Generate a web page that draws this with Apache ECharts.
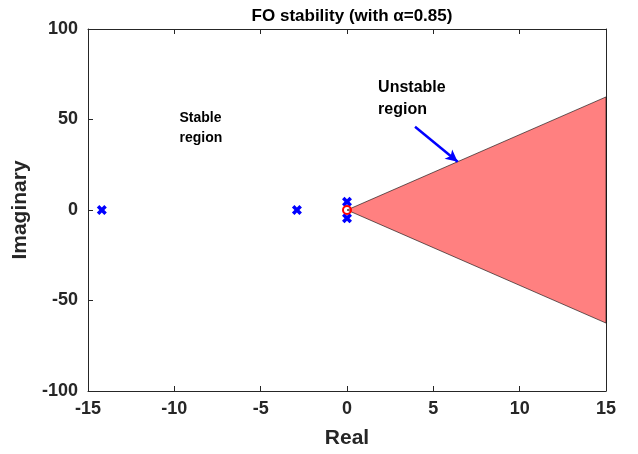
<!DOCTYPE html>
<html><head><meta charset="utf-8">
<script src="https://cdn.jsdelivr.net/npm/echarts@6/dist/echarts.min.js"></script>
<style>html,body{margin:0;padding:0;background:#fff}#c{width:638px;height:454px}</style>
</head><body><div id="c"></div>
<script>
const xTicks = [-15, -10, -5, 0, 5, 10, 15];
const yTicks = [-100, -50, 0, 50, 100];
const poleCross = [[-14.2, 0], [-2.9, 0], [0, 4.6], [0, -4.6]];
const originCircle = [[0, 0]];
const unstableRegion = [[0, 0], [15, 62.47], [15, -62.47]];
const arrowFromTo = [[3.94, 46], [6.41, 26.7]];
const labelsText = [
  { pos: [-9.7, 45.5], text: 'Stable\nregion', size: 14 },
  { pos: [1.8, 61.8], text: 'Unstable\nregion', size: 16 }
];
const FONT = '"Liberation Sans", Arial, sans-serif';
const AX = '#262626';
const xPath = 'path://M0,2.5 L2.5,0 L5,2.5 L7.5,0 L10,2.5 L7.5,5 L10,7.5 L7.5,10 L5,7.5 L2.5,10 L0,7.5 L2.5,5 Z';

const chart = echarts.init(document.getElementById('c'), null, { renderer: 'canvas' });
const axisCommon = {
  axisLine: { show: true, onZero: false, lineStyle: { color: AX, width: 1 } },
  axisTick: { show: true, inside: true, length: 5, lineStyle: { color: AX } },
  splitLine: { show: false }
};
chart.setOption({
  animation: false,
  title: {
    text: 'FO stability (with α=0.85)', left: 347, top: 3, textAlign: 'center',
    textStyle: { fontFamily: FONT, fontSize: 17, fontWeight: 'bold', color: '#000' }
  },
  grid: { left: 88, right: 32, top: 29, bottom: 63 },
  xAxis: [
    Object.assign({
      type: 'value', min: xTicks[0], max: xTicks[xTicks.length - 1], interval: 5, position: 'bottom',
      name: 'Real', nameLocation: 'middle', nameGap: 37,
      nameTextStyle: { fontFamily: FONT, fontSize: 21, fontWeight: 'bold', color: AX },
      axisLabel: { fontFamily: FONT, fontSize: 18, fontWeight: 'bold', color: AX, margin: 9 }
    }, axisCommon),
    Object.assign({
      type: 'value', min: xTicks[0], max: xTicks[xTicks.length - 1], interval: 5, position: 'top',
      axisLabel: { show: false }
    }, axisCommon)
  ],
  yAxis: [
    Object.assign({
      type: 'value', min: yTicks[0], max: yTicks[yTicks.length - 1], interval: 50, position: 'left',
      name: 'Imaginary', nameLocation: 'middle', nameGap: 56,
      nameTextStyle: { fontFamily: FONT, fontSize: 21, fontWeight: 'bold', color: AX },
      axisLabel: { fontFamily: FONT, fontSize: 18, fontWeight: 'bold', color: AX, margin: 10 }
    }, axisCommon),
    Object.assign({
      type: 'value', min: yTicks[0], max: yTicks[yTicks.length - 1], interval: 50, position: 'right',
      axisLabel: { show: false }
    }, axisCommon)
  ],
  series: [
    {
      type: 'custom', xAxisIndex: 0, yAxisIndex: 0, z: 1,
      data: [0],
      renderItem: function (params, api) {
        const pts = unstableRegion.map(p => api.coord(p));
        return {
          type: 'polygon',
          shape: { points: pts },
          style: { fill: '#FF8080', stroke: '#000', lineWidth: 0.6 }
        };
      }
    },
    {
      type: 'scatter', data: poleCross, symbol: xPath, symbolSize: 10, z: 3,
      itemStyle: { color: '#0000FF', opacity: 1 },
      markLine: {
        silent: true, symbol: ['none', 'arrow'], symbolSize: [9, 12],
        lineStyle: { color: '#0000FF', width: 2.5, type: 'solid', opacity: 1 },
        label: { show: false },
        data: [[{ coord: arrowFromTo[0] }, { coord: arrowFromTo[1] }]]
      }
    },
    {
      type: 'scatter', data: originCircle, symbol: 'circle', symbolSize: 8, z: 4,
      itemStyle: { color: 'rgba(255,255,255,0)', borderColor: '#FF0000', borderWidth: 2, opacity: 1 }
    },
    {
      type: 'scatter', symbolSize: 0, z: 5, silent: true,
      itemStyle: { opacity: 1 },
      data: labelsText.map(l => ({
        value: l.pos, name: l.text,
        label: { fontSize: l.size, lineHeight: Math.round(l.size * 1.4) }
      })),
      label: {
        show: true, position: 'right', distance: 0, formatter: p => p.name,
        fontFamily: FONT, fontWeight: 'bold', color: '#000',
        align: 'left', verticalAlign: 'middle'
      }
    }
  ]
});
</script></body></html>
